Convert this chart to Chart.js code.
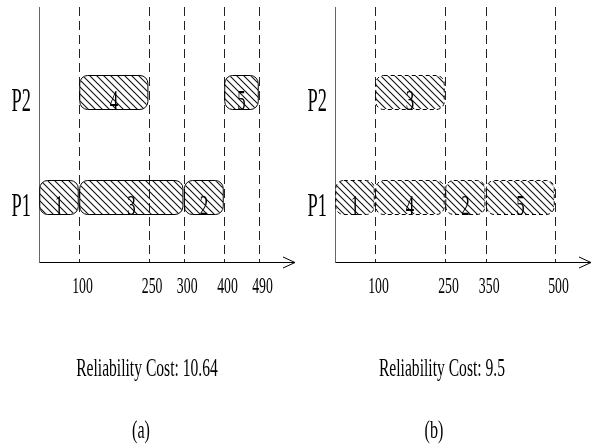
<!DOCTYPE html>
<html><head><meta charset="utf-8">
<script src="https://cdn.jsdelivr.net/npm/chart.js@4/dist/chart.umd.min.js"></script>
<style>
html,body{margin:0;padding:0;background:#fff;overflow:hidden}
#wrap{position:relative;width:597px;height:447px;background:#fff}
canvas{position:absolute;top:0}
#ca{left:0}#cb{left:298px}
</style></head><body>
<div id="wrap"><canvas id="ca" width="298" height="447"></canvas><canvas id="cb" width="299" height="447"></canvas></div>
<script>
// ---- data ----
const processors = ['P1', 'P2'];
// panel (a)
const aTasks = ['1', '3', '2', '4', '5'];
const aProc  = ['P1', 'P1', 'P1', 'P2', 'P2'];
const aStart = [0, 100, 300, 100, 400];
const aEnd   = [100, 300, 400, 250, 490];
const aTicks = [100, 250, 300, 400, 490];
const aCost  = '10.64';
// panel (b)
const bTasks = ['1', '4', '2', '5', '3'];
const bProc  = ['P1', 'P1', 'P1', 'P1', 'P2'];
const bStart = [0, 100, 250, 350, 100];
const bEnd   = [100, 250, 350, 500, 250];
const bTicks = [100, 250, 350, 500];
const bCost  = '9.5';

// ---- schematic (piecewise-linear) axis, as in the source figure ----
class SchematicScale extends Chart.LinearScale {
  _frac(v) {
    const b = this.options.breaks;
    let i = 1;
    while (i < b.length - 1 && v > b[i][0]) i++;
    const [v0, f0] = b[i - 1], [v1, f1] = b[i];
    return f0 + (v - v0) * (f1 - f0) / (v1 - v0);
  }
  getPixelForValue(v) { return this.getPixelForDecimal(this._frac(v)); }
  getValueForPixel(p) {
    const d = this.getDecimalForPixel(p), b = this.options.breaks;
    let i = 1;
    while (i < b.length - 1 && d > b[i][1]) i++;
    const [v0, f0] = b[i - 1], [v1, f1] = b[i];
    return v0 + (d - f0) * (v1 - v0) / (f1 - f0);
  }
}
SchematicScale.id = 'schematic';
SchematicScale.defaults = {};
Chart.register(SchematicScale);

function hatch() {
  const s = 7, c = document.createElement('canvas');
  c.width = s; c.height = s;
  const g = c.getContext('2d');
  g.strokeStyle = '#111'; g.lineWidth = 1.1;
  g.beginPath();
  g.moveTo(-1, -1); g.lineTo(s + 1, s + 1);
  g.moveTo(-1, s - 1); g.lineTo(1, s + 1);
  g.moveTo(s - 1, -1); g.lineTo(s + 1, 1);
  g.stroke();
  return g.createPattern(c, 'repeat');
}

function condText(ctx, txt, x, y, size, sx, align) {
  ctx.save();
  ctx.translate(x, y);
  ctx.scale(sx, 1);
  ctx.font = size + 'px "Liberation Serif", "Times New Roman", serif';
  ctx.textAlign = align || 'center';
  ctx.textBaseline = 'alphabetic';
  ctx.fillStyle = '#000';
  ctx.fillText(txt, 0, 0);
  ctx.restore();
}

const decor = {
  id: 'decor',
  beforeDatasetsDraw(chart, args, o) {
    const ctx = chart.ctx, xs = chart.scales.x, ca = chart.chartArea;
    const axY = ca.bottom + 12.5, top = ca.top - 33;
    ctx.save();
    ctx.strokeStyle = '#222'; ctx.lineWidth = 1; ctx.setLineDash([9, 5]);
    o.ticks.forEach(t => {
      const x = Math.round(xs.getPixelForValue(t)) + 0.5;
      ctx.beginPath(); ctx.moveTo(x, top); ctx.lineTo(x, axY); ctx.stroke();
    });
    ctx.setLineDash([]);
    const ax = Math.round(ca.left) + 0.5;
    ctx.strokeStyle = '#666';
    ctx.beginPath(); ctx.moveTo(ax, top); ctx.lineTo(ax, axY); ctx.stroke();
    const tip = ca.left + 256;
    ctx.strokeStyle = '#000';
    ctx.beginPath(); ctx.moveTo(ax, axY); ctx.lineTo(tip, axY);
    ctx.moveTo(tip - 12, axY - 5.5); ctx.lineTo(tip, axY); ctx.lineTo(tip - 12, axY + 5.5);
    ctx.stroke();
    ctx.restore();
  },
  afterDatasetsDraw(chart, args, o) {
    const ctx = chart.ctx;
    chart.data.datasets.forEach((ds, i) => {
      chart.getDatasetMeta(i).data.forEach(el => {
        const p = el.getProps(['x', 'y', 'base', 'height'], true);
        const l = Math.min(p.x, p.base) + 0.75, r = Math.max(p.x, p.base) - 0.75;
        const t = p.y - p.height / 2 + 0.5, b = p.y + p.height / 2 - 0.5;
        ctx.save();
        ctx.strokeStyle = '#000'; ctx.lineWidth = 1; ctx.setLineDash(o.dash);
        ctx.beginPath(); ctx.roundRect(l, t, r - l, b - t, 8); ctx.stroke();
        ctx.restore();
        condText(ctx, ds.label, (l + r) / 2, p.y + 17, 29, 0.58);
      });
    });
  },
  afterDraw(chart, args, o) {
    const ctx = chart.ctx, xs = chart.scales.x, ys = chart.scales.y, ca = chart.chartArea;
    o.ticks.forEach(t => condText(ctx, String(t), xs.getPixelForValue(t) + 3.5, ca.bottom + 43, 23, 0.6));
    processors.forEach(pn => condText(ctx, pn, ca.left - 8, ys.getPixelForValue(processors.indexOf(pn)) + 18, 34, 0.54, 'right'));
    condText(ctx, 'Reliability Cost: ' + o.cost, o.capX, 376, 26, 0.6);
    condText(ctx, o.sub, o.subX, 438, 26, 0.62);
  }
};

function makeChart(id, tasks, proc, start, end, ticks, cost, sub, breaks, pad, dash, capX, subX) {
  const pat = hatch();
  const datasets = tasks.map((t, i) => ({
    label: t,
    data: [{ y: proc[i], x: [start[i], end[i]] }],
    backgroundColor: pat,
    borderWidth: 0,
    borderRadius: 8,
    borderSkipped: false,
    inflateAmount: -1,
    barThickness: 35,
    grouped: false
  }));
  return new Chart(document.getElementById(id), {
    type: 'bar',
    data: { labels: processors, datasets },
    options: {
      indexAxis: 'y',
      responsive: false,
      animation: false,
      devicePixelRatio: 1,
      events: [],
      layout: { padding: pad },
      scales: {
        x: { type: 'schematic', min: 0, max: breaks[breaks.length - 1][0], breaks, display: false },
        y: { type: 'category', reverse: true, offset: true, display: false }
      },
      plugins: {
        legend: { display: false },
        tooltip: { enabled: false },
        decor: { ticks, cost, sub, dash, capX, subX }
      }
    },
    plugins: [decor]
  });
}

makeChart('ca', aTasks, aProc, aStart, aEnd, aTicks, aCost, '(a)',
  [[0, 0], [100, 0.1818], [250, 0.4985], [300, 0.6577], [400, 0.8409], [490, 1]],
  { left: 39, right: 39, top: 40, bottom: 197 }, [], 147, 141);
makeChart('cb', bTasks, bProc, bStart, bEnd, bTicks, bCost, '(b)',
  [[0, 0], [100, 0.1818], [250, 0.5], [350, 0.685], [500, 1]],
  { left: 37, right: 42, top: 40, bottom: 197 }, [4, 3], 144, 136);
</script>
</body></html>
